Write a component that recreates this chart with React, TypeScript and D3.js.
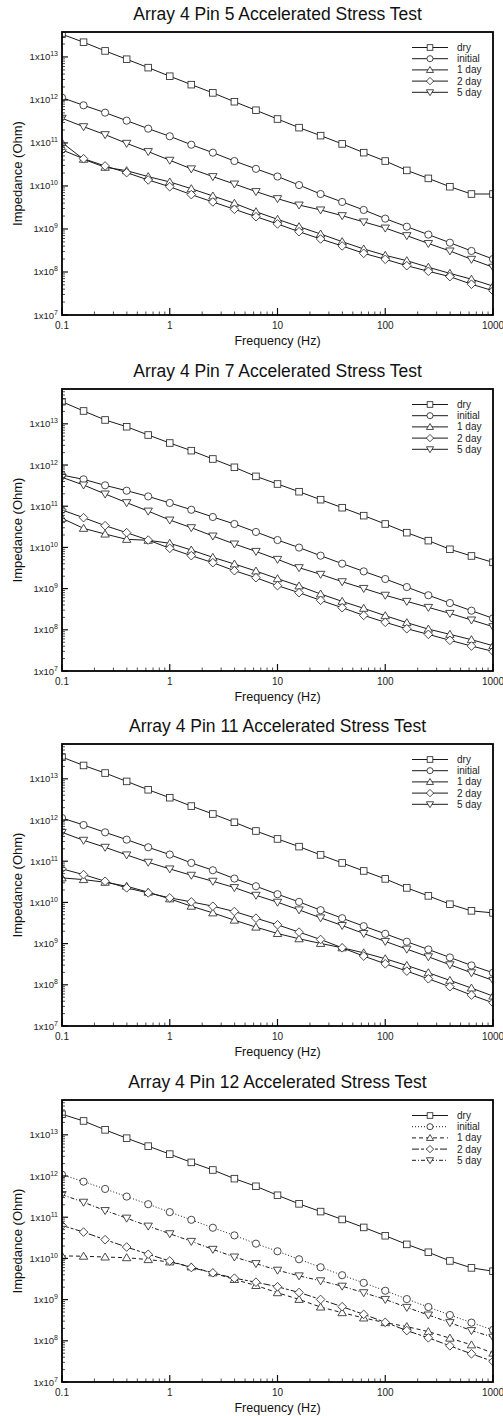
import React from 'react';
import * as d3 from 'd3';

// frequencies (Hz), 5 points per decade
const FREQS = [0.1, 0.1585, 0.2512, 0.3981, 0.631, 1, 1.585, 2.512, 3.981, 6.31, 10,
  15.85, 25.12, 39.81, 63.1, 100, 158.5, 251.2, 398.1, 631, 1000];

const TITLES = [
  'Array 4 Pin 5 Accelerated Stress Test',
  'Array 4 Pin 7 Accelerated Stress Test',
  'Array 4 Pin 11 Accelerated Stress Test',
  'Array 4 Pin 12 Accelerated Stress Test',
];
const LEGEND_LABELS = ['dry', 'initial', '1 day', '2 day', '5 day'];
const X_TICKS = [0.1, 1, 10, 100, 1000];
const X_TICK_LABELS = ['0.1', '1', '10', '100', '1000'];
const Y_EXPONENTS = [7, 8, 9, 10, 11, 12, 13];

// Pin 5
const pin5Dry = [3.37e13, 2.2e13, 1.38e13, 8.85e12, 5.64e12, 3.56e12, 2.27e12, 1.46e12, 9.1e11, 5.76e11, 3.6e11,
  2.27e11, 1.48e11, 9.5e10, 5.95e10, 3.8e10, 2.3e10, 1.5e10, 9.6e9, 6.5e9, 6.5e9];
const pin5Initial = [1.13e12, 7.5e11, 5.07e11, 3.3e11, 2.15e11, 1.43e11, 9.1e10, 5.95e10, 3.8e10, 2.5e10, 1.66e10,
  1.05e10, 6.5e9, 4.25e9, 2.77e9, 1.74e9, 1.13e9, 7.4e8, 4.8e8, 3.08e8, 2.0e8];
const pin5Day1 = [1.02e11, 4.18e10, 2.72e10, 2.27e10, 1.65e10, 1.24e10, 8.65e9, 5.85e9, 3.96e9, 2.52e9, 1.68e9,
  1.13e9, 7.65e8, 5.07e8, 3.43e8, 2.44e8, 1.83e8, 1.29e8, 9.3e7, 6.8e7, 4.7e7];
const pin5Day2 = [6.9e10, 4.3e10, 2.92e10, 2.04e10, 1.38e10, 9.6e9, 6.3e9, 4.25e9, 2.87e9, 1.93e9, 1.31e9,
  8.65e8, 5.85e8, 4.03e8, 2.72e8, 1.97e8, 1.4e8, 1.04e8, 7.8e7, 5.2e7, 3.67e7];
const pin5Day5 = [3.75e11, 2.39e11, 1.56e11, 9.8e10, 6.3e10, 3.96e10, 2.5e10, 1.65e10, 1.11e10, 7.4e9, 5.07e9,
  3.6e9, 2.77e9, 2.04e9, 1.46e9, 1.05e9, 7.0e8, 4.6e8, 3.08e8, 1.97e8, 1.29e8];

// Pin 7
const pin7Dry = [3.44e13, 2.05e13, 1.24e13, 8.5e12, 5.35e12, 3.42e12, 2.23e12, 1.4e12, 8.8e11, 5.3e11, 3.46e11,
  2.25e11, 1.44e11, 9.2e10, 5.9e10, 3.7e10, 2.28e10, 1.46e10, 9.0e9, 6.2e9, 4.34e9];
const pin7Initial = [5.7e11, 4.49e11, 3.21e11, 2.38e11, 1.73e11, 1.2e11, 8.2e10, 5.47e10, 3.7e10, 2.37e10, 1.51e10,
  9.9e9, 6.3e9, 4.03e9, 2.62e9, 1.71e9, 1.09e9, 6.9e8, 4.47e8, 2.91e8, 1.9e8];
const pin7Day1 = [5.08e10, 2.9e10, 2.11e10, 1.57e10, 1.49e10, 1.26e10, 8.65e9, 5.74e9, 3.95e9, 2.67e9, 1.74e9,
  1.16e9, 7.4e8, 4.9e8, 3.32e8, 2.2e8, 1.49e8, 1.04e8, 7.76e7, 5.76e7, 4.12e7];
const pin7Day2 = [8.09e10, 5.27e10, 3.37e10, 2.28e10, 1.51e10, 9.5e9, 6.3e9, 4.26e9, 2.72e9, 1.84e9, 1.18e9,
  7.96e8, 5.19e8, 3.44e8, 2.24e8, 1.52e8, 1.06e8, 7.76e7, 5.55e7, 4.04e7, 3.0e7];
const pin7Day5 = [5.02e11, 3.27e11, 1.98e11, 1.22e11, 7.6e10, 4.62e10, 3.01e10, 1.89e10, 1.21e10, 8.0e9, 5.13e9,
  3.22e9, 2.22e9, 1.47e9, 1.01e9, 6.9e8, 4.9e8, 3.5e8, 2.5e8, 1.73e8, 1.19e8];

// Pin 11
const pin11Dry = [3.36e13, 2.11e13, 1.38e13, 8.65e12, 5.43e12, 3.48e12, 2.18e12, 1.4e12, 8.8e11, 5.41e11, 3.47e11,
  2.26e11, 1.42e11, 9.08e10, 5.8e10, 3.72e10, 2.25e10, 1.44e10, 9.04e9, 6.24e9, 5.57e9];
const pin11Initial = [1.12e12, 7.57e11, 5.02e11, 3.34e11, 2.18e11, 1.45e11, 9.08e10, 6.03e10, 3.79e10, 2.47e10, 1.58e10,
  1.03e10, 6.47e9, 4.14e9, 2.65e9, 1.73e9, 1.11e9, 7.2e8, 4.61e8, 2.95e8, 1.96e8];
const pin11Day1 = [3.93e10, 3.58e10, 3.08e10, 2.47e10, 1.77e10, 1.22e10, 8.09e9, 5.57e9, 3.71e9, 2.51e9, 1.76e9,
  1.31e9, 1.01e9, 7.91e8, 5.98e8, 4.29e8, 2.95e8, 1.96e8, 1.28e8, 8.34e7, 5.33e7];
const pin11Day2 = [6.5e10, 4.73e10, 3.26e10, 2.25e10, 1.7e10, 1.29e10, 1.03e10, 8.09e9, 6.01e9, 4.14e9, 2.86e9,
  1.9e9, 1.26e9, 7.91e8, 4.97e8, 3.24e8, 2.15e8, 1.4e8, 8.98e7, 5.64e7, 3.67e7];
const pin11Day5 = [5.02e11, 3.22e11, 2.18e11, 1.42e11, 9.42e10, 6.5e10, 4.56e10, 3.26e10, 2.29e10, 1.49e10, 1.01e10,
  6.59e9, 4.22e9, 2.75e9, 1.76e9, 1.13e9, 7.34e8, 4.79e8, 3.06e8, 1.96e8, 1.28e8];

// Pin 12
const pin12Dry = [3.15e13, 2.17e13, 1.32e13, 8.28e12, 5.31e12, 3.4e12, 2.14e12, 1.4e12, 8.63e11, 5.63e11, 3.41e11,
  2.11e11, 1.37e11, 8.82e10, 5.65e10, 3.55e10, 2.19e10, 1.41e10, 8.68e9, 5.89e9, 4.89e9];
const pin12Initial = [1.08e12, 7.3e11, 4.85e11, 3.17e11, 2.07e11, 1.33e11, 8.65e10, 5.55e10, 3.62e10, 2.28e10, 1.49e10,
  9.53e9, 6.1e9, 3.91e9, 2.55e9, 1.64e9, 1.03e9, 6.6e8, 4.23e8, 2.76e8, 1.84e8];
const pin12Day1 = [1.15e10, 1.13e10, 1.08e10, 1.04e10, 9.35e9, 8.22e9, 6.22e9, 4.46e9, 3.08e9, 2.2e9, 1.47e9,
  1.01e9, 6.6e8, 4.82e8, 3.58e8, 2.76e8, 2.21e8, 1.67e8, 1.16e8, 7.97e7, 5.02e7];
const pin12Day2 = [6.31e10, 4.36e10, 2.85e10, 1.89e10, 1.26e10, 8.68e9, 6.0e9, 4.46e9, 3.31e9, 2.65e9, 2.05e9,
  1.49e9, 1.01e9, 6.73e8, 4.39e8, 2.81e8, 1.77e8, 1.18e8, 7.55e7, 4.83e7, 3.16e7];
const pin12Day5 = [3.54e11, 2.31e11, 1.45e11, 9.49e10, 6.08e10, 3.97e10, 2.59e10, 1.66e10, 1.08e10, 7.48e9, 5.17e9,
  3.77e9, 2.86e9, 2.12e9, 1.47e9, 1.01e9, 6.48e8, 4.23e8, 2.76e8, 1.77e8, 1.22e8];

const PANEL_SERIES = [
  [pin5Dry, pin5Initial, pin5Day1, pin5Day2, pin5Day5],
  [pin7Dry, pin7Initial, pin7Day1, pin7Day2, pin7Day5],
  [pin11Dry, pin11Initial, pin11Day1, pin11Day2, pin11Day5],
  [pin12Dry, pin12Initial, pin12Day1, pin12Day2, pin12Day5],
];

// layout
const W = 503;
const H = 1416;
const LEFT = 62;
const RIGHT = 493;
const PANEL_TOPS = [32, 389, 744, 1100];
const PANEL_HEIGHTS = [283, 282, 282, 282];
const Y_MAX = [3.8e13, 7e13, 7e13, 7e13];
const FONT = '"Liberation Sans", Arial, Helvetica, sans-serif';
const MARKERS = ['square', 'circle', 'up', 'diamond', 'down'];
const SOLID = [null, null, null, null, null];
const DASHED = [null, '1,2', '4,3', '7,2,3,2', '4,2,1,2'];

const Marker = ({ kind, x, y, s = 1 }) => {
  const st = { fill: '#fff', stroke: '#2a2a2a', strokeWidth: 0.85 };
  if (kind === 'square') return <rect x={x - 3.3 * s} y={y - 3.3 * s} width={6.6 * s} height={6.6 * s} {...st} />;
  if (kind === 'circle') return <circle cx={x} cy={y} r={3.6 * s} {...st} />;
  if (kind === 'up') return <path d={`M${x},${y - 4 * s}L${x + 4.2 * s},${y + 3 * s}L${x - 4.2 * s},${y + 3 * s}Z`} {...st} />;
  if (kind === 'down') return <path d={`M${x},${y + 4 * s}L${x + 4.2 * s},${y - 3 * s}L${x - 4.2 * s},${y - 3 * s}Z`} {...st} />;
  return <path d={`M${x},${y - 4.3 * s}L${x + 4.3 * s},${y}L${x},${y + 4.3 * s}L${x - 4.3 * s},${y}Z`} {...st} />;
};

const Panel = ({ idx, dashes }) => {
  const top = PANEL_TOPS[idx];
  const bottom = top + PANEL_HEIGHTS[idx];
  const x = d3.scaleLog().domain([0.1, 1000]).range([LEFT, RIGHT]);
  const y = d3.scaleLog().domain([1e7, Y_MAX[idx]]).range([bottom, top]);
  const line = d3.line<number>().x((_, i) => x(FREQS[i])).y((d) => y(d));
  const clipId = `clip${idx}`;

  const yMinor = [];
  Y_EXPONENTS.forEach((e) => {
    for (let m = 2; m <= 9; m++) {
      const v = m * Math.pow(10, e);
      if (v < Y_MAX[idx]) yMinor.push(v);
    }
  });
  const xMinor = [];
  X_TICKS.slice(0, -1).forEach((t) => {
    for (let m = 2; m <= 9; m++) xMinor.push(t * m);
  });

  return (
    <g>
      <text x={(LEFT + RIGHT) / 2} y={top - 12} textAnchor="middle" fontSize={17.5} fill="#111">
        {TITLES[idx]}
      </text>
      <defs>
        <clipPath id={clipId}>
          <rect x={LEFT} y={top} width={RIGHT - LEFT} height={bottom - top} />
        </clipPath>
      </defs>
      <g clipPath={`url(#${clipId})`}>
        {PANEL_SERIES[idx].map((s, si) => (
          <g key={si}>
            <path d={line(s)} fill="none" stroke="#1a1a1a" strokeWidth={1}
              strokeDasharray={dashes[si] || undefined} />
            {s.map((v, i) => <Marker key={i} kind={MARKERS[si]} x={x(FREQS[i])} y={y(v)} />)}
          </g>
        ))}
      </g>
      {/* ticks */}
      {yMinor.map((v, i) => (
        <line key={'ym' + i} x1={LEFT} x2={LEFT + 3} y1={y(v)} y2={y(v)} stroke="#222" strokeWidth={0.8} />
      ))}
      {Y_EXPONENTS.map((e) => (
        <line key={'yM' + e} x1={LEFT} x2={LEFT + 6} y1={y(Math.pow(10, e))} y2={y(Math.pow(10, e))}
          stroke="#111" strokeWidth={1.2} />
      ))}
      {xMinor.map((v, i) => (
        <line key={'xm' + i} x1={x(v)} x2={x(v)} y1={bottom} y2={bottom - 3.5} stroke="#222" strokeWidth={0.8} />
      ))}
      {X_TICKS.map((t) => (
        <line key={'xM' + t} x1={x(t)} x2={x(t)} y1={bottom} y2={bottom - 7} stroke="#111" strokeWidth={1.2} />
      ))}
      <rect x={LEFT} y={top} width={RIGHT - LEFT} height={bottom - top} fill="none" stroke="#000" strokeWidth={1.8} />
      {/* tick labels */}
      {Y_EXPONENTS.map((e) => (
        <text key={'yl' + e} x={LEFT - 4} y={y(Math.pow(10, e)) + 3.5} textAnchor="end" fontSize={9.5} fill="#222">
          1x10<tspan fontSize={7} dy={-4}>{e}</tspan>
        </text>
      ))}
      {X_TICKS.map((t, i) => (
        <text key={'xl' + t} x={x(t)} y={bottom + 14} textAnchor="middle" fontSize={10} fill="#222">
          {X_TICK_LABELS[i]}
        </text>
      ))}
      <text x={(LEFT + RIGHT) / 2} y={bottom + 30} textAnchor="middle" fontSize={12.5} fill="#111">
        Frequency (Hz)
      </text>
      <text transform={`translate(22,${(top + bottom) / 2}) rotate(-90)`} textAnchor="middle" fontSize={13} fill="#111">
        Impedance (Ohm)
      </text>
      {/* legend */}
      {LEGEND_LABELS.map((lab, i) => {
        const ly = top + 15.5 + i * 11.2;
        return (
          <g key={lab}>
            <line x1={412} x2={448} y1={ly} y2={ly} stroke="#1a1a1a" strokeWidth={1}
              strokeDasharray={dashes[i] || undefined} />
            <Marker kind={MARKERS[i]} x={430} y={ly} s={0.85} />
            <text x={457} y={ly + 3.5} fontSize={10} fill="#222">{lab}</text>
          </g>
        );
      })}
    </g>
  );
};

export default function App() {
  return (
    <svg width={W} height={H} style={{ position: 'absolute', left: 0, top: 0, background: '#fff' }}
      fontFamily={FONT}>
      <rect width={W} height={H} fill="#fff" />
      {PANEL_TOPS.map((_, i) => (
        <Panel key={i} idx={i} dashes={i === 3 ? DASHED : SOLID} />
      ))}
    </svg>
  );
}
